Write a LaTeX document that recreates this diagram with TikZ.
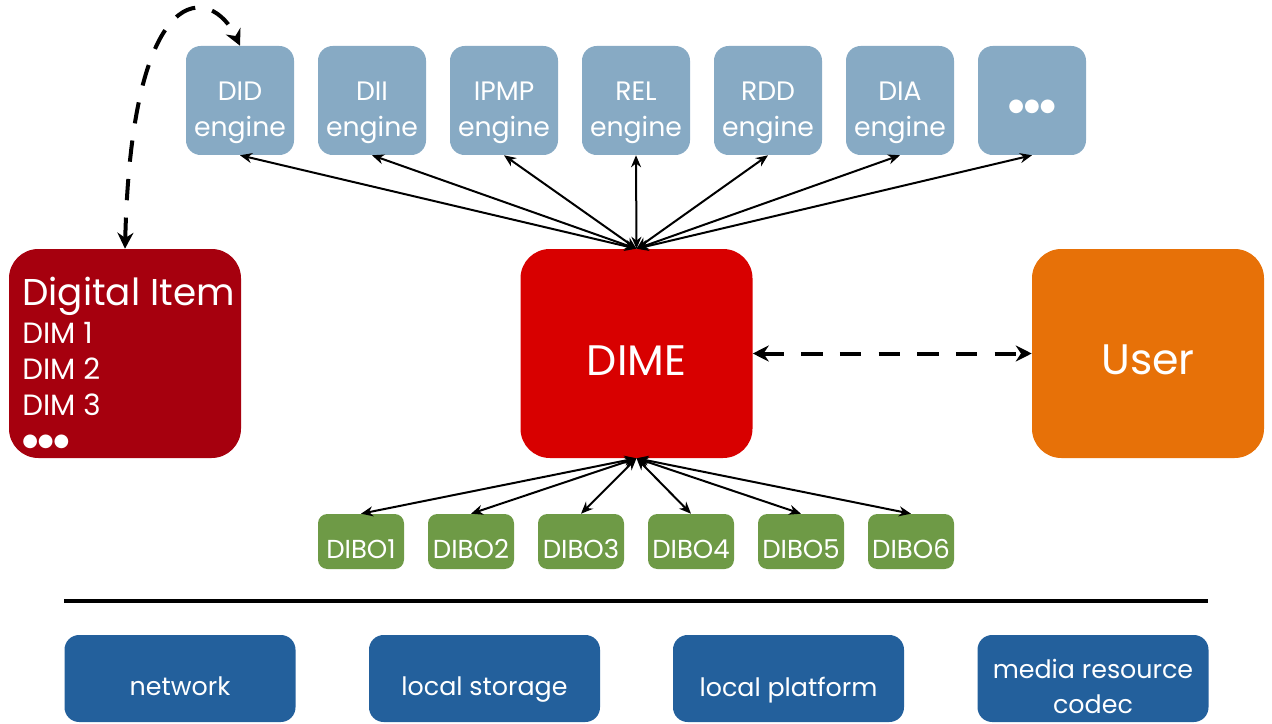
\documentclass[tikz,border=0pt]{standalone}
\usepackage{fontspec}
\setmainfont{Poppins}
\newfontfamily\symfont{DejaVu Sans}
\usetikzlibrary{arrows.meta}
\definecolor{engc}{HTML}{87AAC4}
\definecolor{dic}{HTML}{A6000E}
\definecolor{dimec}{HTML}{D80000}
\definecolor{userc}{HTML}{E77108}
\definecolor{diboc}{HTML}{6E9A46}
\definecolor{basec}{HTML}{23609C}
\newcommand{\lowerby}[2]{\raisebox{-#1}[\height][\depth]{#2}}
\newcommand{\dotrow}{{\symfont ●●●}}
\tikzset{
  box/.style={rounded corners=11pt, inner sep=0pt, text=white, align=center},
  engbox/.style={box, fill=engc, minimum width=81pt, minimum height=81.75pt, font=\fontsize{20}{27}\selectfont},
  bigbox/.style={box, rounded corners=22pt, minimum width=174pt, minimum height=156.75pt, font=\fontsize{32}{36}\selectfont},
  dibobox/.style={box, rounded corners=7pt, fill=diboc, minimum width=64.5pt, minimum height=41.25pt, font=\fontsize{19.5}{24}\selectfont},
  basebox/.style={box, rounded corners=11pt, fill=basec, minimum width=173.25pt, minimum height=65.25pt, font=\fontsize{19}{26.25}\selectfont},
  conn/.style={line width=1.5pt, {Stealth[length=9pt,width=7.5pt]}-{Stealth[length=9pt,width=7.5pt]}},
  dashconn/.style={line width=3pt, dash pattern=on 16pt off 13pt, {Stealth[length=12pt,width=12pt]}-{Stealth[length=12pt,width=12pt]}},
}
\begin{document}
\begin{tikzpicture}[x=0.75pt,y=-0.75pt]
\useasboundingbox (0,0) rectangle (1272,724);
% engines
\node[engbox] (did) at (240,100.5) {\lowerby{8pt}{\begin{tabular}{@{}c@{}}DID\\engine\end{tabular}}};
\node[engbox] (dii) at (372,100.5) {\lowerby{8pt}{\begin{tabular}{@{}c@{}}DII\\engine\end{tabular}}};
\node[engbox] (ipmp) at (504,100.5) {\lowerby{8pt}{\begin{tabular}{@{}c@{}}IPMP\\engine\end{tabular}}};
\node[engbox] (rel) at (636,100.5) {\lowerby{8pt}{\begin{tabular}{@{}c@{}}REL\\engine\end{tabular}}};
\node[engbox] (rdd) at (768,100.5) {\lowerby{8pt}{\begin{tabular}{@{}c@{}}RDD\\engine\end{tabular}}};
\node[engbox] (dia) at (900,100.5) {\lowerby{8pt}{\begin{tabular}{@{}c@{}}DIA\\engine\end{tabular}}};
\node[engbox] (more) at (1032,100.5) {\lowerby{5pt}{\fontsize{13.5}{16}\selectfont\dotrow}};
% main boxes
\node[bigbox, fill=dic] (di) at (125,353.5) {};
\node[anchor=base west, inner sep=0pt, text=white, font=\fontsize{22}{27}\selectfont] (ditext) at (22,305)
  {\begin{tabular}[t]{@{}l@{}}{\fontsize{28}{30}\selectfont Digital Item}\\[1.5pt]
   DIM 1\\DIM 2\\DIM 3\\[-3.75pt]{\fontsize{13.5}{16}\selectfont\dotrow}\end{tabular}};
\node[bigbox, fill=dimec] (dime) at (636.5,353.5) {\lowerby{5pt}{DIME}};
\node[bigbox, fill=userc] (user) at (1148,353.5) {\lowerby{5pt}{User}};
% DIBOs
\node[dibobox] (dibo1) at (361,541.5) {\lowerby{5.5pt}{DIBO1}};
\node[dibobox] (dibo2) at (471,541.5) {\lowerby{5.5pt}{DIBO2}};
\node[dibobox] (dibo3) at (581,541.5) {\lowerby{5.5pt}{DIBO3}};
\node[dibobox] (dibo4) at (691,541.5) {\lowerby{5.5pt}{DIBO4}};
\node[dibobox] (dibo5) at (801,541.5) {\lowerby{5.5pt}{DIBO5}};
\node[dibobox] (dibo6) at (911,541.5) {\lowerby{5.5pt}{DIBO6}};
% separator
\coordinate (sepL) at (64,601);
\coordinate (sepR) at (1208,601);
\draw[line width=3pt] (sepL) -- (sepR);
% base boxes
\node[basebox] (net) at (180,678.5) {\lowerby{8.5pt}{network\vphantom{lg}}};
\node[basebox] (stor) at (484.5,678.5) {\lowerby{8.5pt}{local storage\vphantom{lg}}};
\node[basebox] (plat) at (788.5,678.5) {\lowerby{8.5pt}{local platform\vphantom{lg}}};
\node[basebox] (codec) at (1093,678.5) {\lowerby{7.5pt}{\begin{tabular}{@{}c@{}}media resource\\codec\end{tabular}}};
% connectors
\foreach \e in {did,dii,ipmp,rel,rdd,dia,more}
  \draw[conn] (dime.north) -- (\e.south);
\foreach \d in {dibo1,dibo2,dibo3,dibo4,dibo5,dibo6}
  \draw[conn] (dime.south) -- (\d.north);
\draw[dashconn] (dime.east) -- (user.west);
\draw[dashconn] (di.north) .. controls (132,-27) and (212,-14) .. (did.north);
\end{tikzpicture}
\end{document}
